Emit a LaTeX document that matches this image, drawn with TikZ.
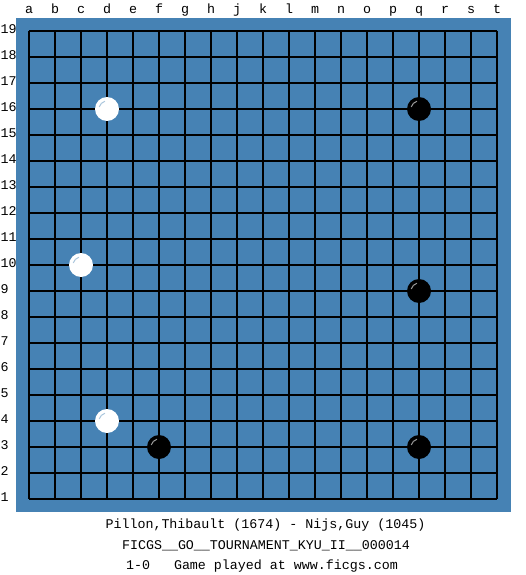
\documentclass[tikz,border=0pt]{standalone}
\usepackage{fontspec}
\setmonofont{Liberation Mono}
\definecolor{board}{HTML}{4682B4}
\tikzset{
  gridline/.style={line width=1.3pt, black},
  lbl/.style={inner sep=0pt, font=\ttfamily\fontsize{13.33}{16}\selectfont},
  bstone/.style={circle, fill=black, minimum size=24pt, inner sep=0pt},
  wstone/.style={circle, fill=white, minimum size=24pt, inner sep=0pt},
  hlb/.style={line width=1pt, gray!80},
  hlw/.style={line width=1pt, board!45!white},
}
\begin{document}
\begin{tikzpicture}[x=1pt,y=-1pt]
\useasboundingbox (0,0) rectangle (525,575);
\fill[board] (16,18) rectangle (511,512);
\foreach \i in {0,...,18} {
  \draw[gridline] (29+26*\i,31) -- (29+26*\i,499);
  \draw[gridline] (29,31+26*\i) -- (497,31+26*\i);
}
\foreach \l [count=\i from 0] in {a,b,c,d,e,f,g,h,j,k,l,m,n,o,p,q,r,s,t}
  \node[lbl, anchor=base] (col\l) at (29+26*\i,14) {\l};
\foreach \r in {1,...,19}
  \node[lbl, anchor=mid west] (row\r) at (0.5,31+26*19-26*\r) {\r};
% stones
\node[wstone] (d16) at (29+26*3, 31+26*3) {};
\node[wstone] (c10) at (29+26*2, 31+26*9) {};
\node[wstone] (d4)  at (29+26*3, 31+26*15) {};
\node[bstone] (q16) at (29+26*15, 31+26*3) {};
\node[bstone] (q9)  at (29+26*15, 31+26*10) {};
\node[bstone] (q3)  at (29+26*15, 31+26*16) {};
\node[bstone] (f3)  at (29+26*5, 31+26*16) {};
\foreach \s in {d16,c10,d4}
  \draw[hlw] (\s.center) ++(195:8) arc[start angle=195, end angle=255, radius=8];
\foreach \s in {q16,q9,q3,f3}
  \draw[hlb] (\s.center) ++(195:8) arc[start angle=195, end angle=255, radius=8];
% caption
\node[lbl, anchor=base] (t1) at (265.5,528) {Pillon,Thibault (1674) - Nijs,Guy (1045)};
\node[lbl, anchor=base] (t2) at (266,549) {FICGS\_\_GO\_\_TOURNAMENT\_KYU\_II\_\_000014};
\node[lbl, anchor=base] (t3) at (262,569) {1-0\ \ \ Game played at www.ficgs.com};
\end{tikzpicture}
\end{document}
